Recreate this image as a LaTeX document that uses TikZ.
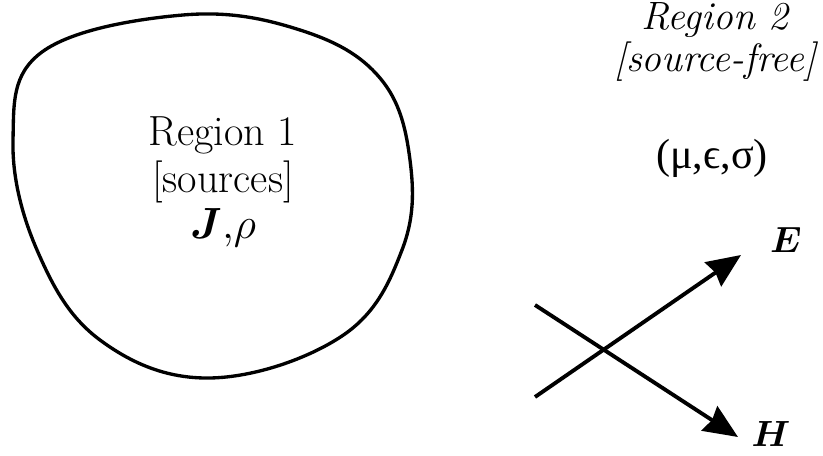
\documentclass[tikz,border=0pt]{standalone}
\usepackage{amsmath,amssymb}
\usepackage{fontspec}
\newfontfamily\greekfont{Liberation Serif}
\usetikzlibrary{arrows.meta}

\begin{document}
\begin{tikzpicture}[
  x=0.02cm, y=-0.02cm,
  blob/.style  ={line width=1.9pt,line join=round},
  field/.style ={line width=2.2pt,-{Stealth[length=0.68cm,width=0.58cm,inset=0.06cm]}},
  rtext/.style ={align=center,inner sep=0pt,font=\fontsize{24}{26.5}\selectfont},
  ritext/.style={align=center,inner sep=0pt,font=\fontsize{22.5}{24}\selectfont\itshape},
  vlabel/.style={inner sep=0pt,font=\fontsize{22}{26}\selectfont}
]
\useasboundingbox (0,0) rectangle (823,456);
% region with sources
\draw[blob] plot[smooth cycle,tension=0.65] coordinates {
  (183,15) (300,30) (380,78) (410,160) (402,250) (342,336) (210,378)
  (100,340) (37,250) (13,140) (42,52)};
\node[rtext] (reg1) at (223,182) {Region 1\\{}[sources]\\$\boldsymbol{J}{,}\rho$};
% source-free region
\node[ritext] (reg2) at (715,42) {Region 2\\{}[source-free]};
\node[rtext,font=\fontsize{24}{26}\greekfont] (medium) at (712,158) {(μ,ϵ,σ)};
% field vectors
\coordinate (e0) at (535,397);
\coordinate (e1) at (741,255);
\coordinate (h0) at (535,305);
\coordinate (h1) at (738,437);
\draw[field] (e0) -- (e1);
\draw[field] (h0) -- (h1);
\node[vlabel] (E) at (786,240) {$\boldsymbol{E}$};
\node[vlabel] (H) at (771,434) {$\boldsymbol{H}$};
\end{tikzpicture}
\end{document}
